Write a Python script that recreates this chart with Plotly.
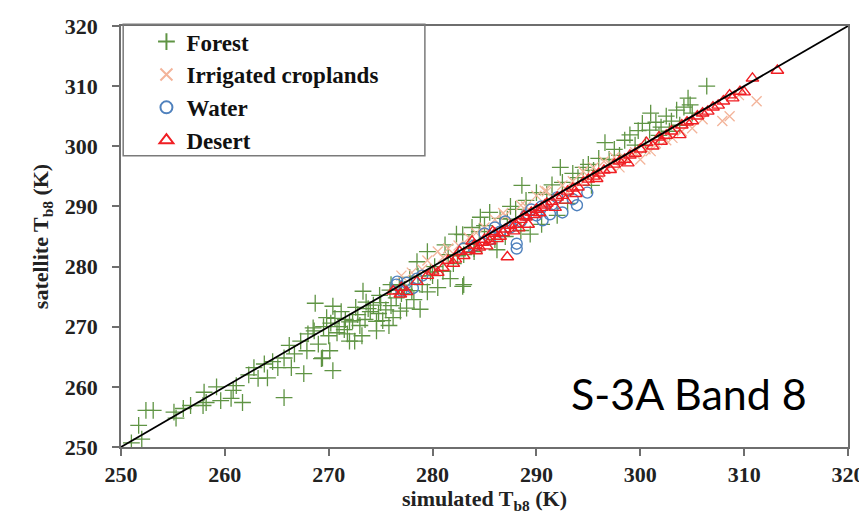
import plotly.graph_objects as go

# ---------------- data (simulated Tb8, satellite Tb8) ----------------
forest = [
    (251.0, 250.7), (251.7, 253.6), (252.4, 256.1), (253.1, 256.1), (252.0, 251.3),
    (255.1, 255.8), (255.3, 254.8), (256.7, 256.9), (257.9, 256.9), (258.2, 257.4),
    (258.0, 259.1), (259.6, 257.7), (260.6, 258.1), (260.8, 259.4), (261.1, 260.2),
    (261.7, 257.4), (262.8, 263.2), (263.2, 261.4), (264.1, 261.5), (263.8, 263.8),
    (265.1, 263.2), (265.7, 264.8), (266.4, 263.2), (266.7, 265.5), (265.7, 258.2),
    (267.6, 262.2), (267.3, 267.6), (268.0, 268.8), (268.6, 269.3), (269.0, 267.1),
    (268.7, 273.9), (270.4, 262.7), (269.3, 264.7), (267.9, 266.0), (268.5, 269.8),
    (270.1, 266.0), (269.4, 264.8), (270.4, 273.4), (270.6, 271.4), (271.0, 270.0),
    (271.5, 269.5), (272.0, 270.8), (272.0, 267.6), (272.5, 267.6), (272.8, 272.0),
    (273.3, 275.9), (273.5, 271.2), (274.0, 272.5), (274.6, 270.9), (274.6, 269.3),
    (275.0, 274.0), (275.5, 272.8), (276.0, 273.5), (276.2, 271.5), (276.9, 272.6),
    (277.5, 273.1), (277.0, 275.5), (278.0, 276.0), (278.8, 272.9), (278.5, 280.8),
    (279.5, 282.5), (279.0, 277.0), (280.0, 278.5), (281.0, 279.2), (281.7, 278.0),
    (282.9, 276.7), (282.0, 280.5), (280.5, 276.5), (271.2, 272.5), (272.3, 271.0),
    (273.0, 270.2), (273.8, 273.0), (274.3, 273.6), (275.2, 271.0), (276.5, 274.8),
    (277.3, 276.2), (269.5, 270.0), (270.0, 268.5), (270.8, 269.0), (271.8, 268.8),
    (273.2, 268.5), (274.8, 272.2), (275.8, 270.2), (278.2, 274.5), (279.5, 275.8),
    (280.2, 280.0), (281.5, 282.0), (282.4, 281.8), (283.0, 282.0), (283.5, 283.8),
    (284.0, 282.5), (284.5, 285.8), (276.0, 277.0), (277.8, 278.2), (271.6, 271.2),
    (272.6, 273.2), (273.6, 274.1), (274.9, 275.2), (275.9, 276.1), (276.8, 276.9),
    (278.6, 278.4), (279.8, 279.1), (270.2, 270.6), (269.8, 271.5), (266.2, 266.9),
    (264.6, 264.2), (262.3, 262.0), (259.2, 260.0), (256.0, 256.4),
    (282.3, 285.4), (282.9, 285.3), (284.6, 288.2), (285.5, 289.0), (286.2, 282.8),
    (287.2, 287.9), (288.6, 293.5), (289.4, 285.4), (292.3, 296.5), (283.0, 277.0),
    (285.0, 286.8), (286.5, 288.0), (287.5, 290.0), (288.0, 289.5), (289.0, 291.0),
    (290.0, 292.3), (291.0, 292.0), (291.5, 293.6), (292.5, 294.0), (293.5, 295.5),
    (294.0, 294.8), (294.5, 296.5), (295.0, 297.0), (295.5, 296.0), (296.0, 298.0),
    (290.5, 287.0), (292.0, 288.5), (288.5, 286.0), (286.0, 284.5), (284.0, 283.0),
    (293.0, 290.5), (295.3, 293.5), (283.8, 286.5), (287.0, 285.0), (281.2, 283.6),
    (296.6, 300.6), (299.0, 301.9), (300.9, 302.7), (301.5, 304.0), (302.0, 303.2),
    (302.5, 305.0), (303.0, 304.2), (303.5, 306.0), (303.8, 303.5), (304.6, 308.0),
    (304.8, 306.9), (304.2, 306.5), (306.4, 310.0), (301.0, 305.5), (300.2, 303.8),
    (299.5, 300.2), (298.5, 301.0), (297.5, 299.5), (298.0, 298.5), (302.8, 302.5),
    (305.0, 305.5), (301.8, 301.8), (300.5, 300.2), (297.0, 297.8), (299.8, 302.6),
]

croplands = [
    (277.0, 278.5), (278.0, 279.0), (279.5, 281.0), (280.5, 282.5), (281.5, 283.0),
    (282.5, 283.5), (283.5, 284.8), (281.0, 281.5), (279.0, 279.5), (285.0, 286.5),
    (286.0, 287.8), (287.0, 288.5), (288.5, 290.2), (290.0, 291.8), (291.0, 292.5),
    (292.5, 293.5), (293.5, 294.2), (294.5, 295.8), (295.5, 296.5), (296.5, 297.5),
    (297.5, 298.2), (289.0, 290.0), (293.0, 292.5), (296.0, 295.5), (298.5, 298.0),
    (299.5, 299.0), (300.5, 299.5), (301.5, 300.5), (302.5, 301.0), (303.1, 301.4),
    (304.0, 302.5), (305.0, 303.0), (306.0, 304.5), (307.9, 304.2), (308.6, 305.0),
    (311.2, 307.5), (309.5, 308.5), (300.0, 297.8), (298.0, 296.5), (284.2, 285.6),
    (286.8, 288.9), (290.8, 292.6), (294.8, 294.6), (297.2, 296.8), (301.0, 299.2),
]

water = [
    (276.5, 277.0), (277.0, 276.0), (277.5, 277.3), (278.1, 276.4), (276.6, 277.5),
    (278.5, 278.0), (279.0, 278.5), (283.0, 283.0), (284.0, 283.5), (285.5, 284.5),
    (286.5, 285.8), (287.5, 286.5), (288.1, 283.8), (288.1, 283.0), (288.5, 287.5),
    (289.0, 288.5), (290.0, 288.5), (290.6, 287.7), (291.3, 288.7), (292.5, 289.0),
    (293.9, 290.2), (294.9, 292.3), (293.5, 291.2), (289.5, 289.5), (290.5, 290.0),
    (291.5, 290.3), (292.0, 291.5), (286.0, 286.5), (287.0, 287.5), (285.0, 285.5),
]

desert = [
    (277.0, 276.5), (277.5, 275.8), (276.2, 275.9), (276.9, 275.4), (278.5, 277.5),
    (279.5, 278.5), (280.0, 279.2), (281.0, 279.8), (281.5, 281.0), (282.0, 280.5),
    (282.6, 282.5), (283.0, 281.8), (283.5, 282.8), (284.0, 283.5), (284.5, 283.2),
    (285.0, 284.5), (285.5, 284.2), (286.0, 285.5), (286.5, 285.0), (287.0, 286.2),
    (287.2, 281.6), (287.5, 286.8), (288.0, 287.0), (288.5, 287.8), (289.0, 288.2),
    (289.5, 289.0), (290.0, 289.5), (290.5, 289.8), (291.0, 290.5), (291.5, 290.8),
    (292.0, 291.5), (292.5, 291.8), (293.0, 292.5), (293.5, 293.0), (294.0, 293.2),
    (294.5, 294.0), (295.0, 294.5), (295.5, 295.0), (296.0, 295.5), (296.5, 296.0),
    (297.1, 296.1), (297.5, 297.0), (298.0, 297.5), (298.5, 297.8), (299.0, 298.5),
    (299.5, 298.8), (300.0, 299.5), (300.6, 300.6), (301.2, 300.0), (301.8, 301.5),
    (302.0, 300.8), (302.5, 301.8), (303.0, 302.5), (303.8, 301.9), (304.0, 303.5),
    (304.5, 304.0), (305.0, 304.2), (305.5, 305.0), (306.0, 305.5), (306.5, 305.8),
    (307.0, 306.5), (307.5, 306.8), (308.0, 307.5), (308.6, 308.5), (308.9, 308.0),
    (309.6, 309.1), (310.0, 309.0), (310.8, 311.3), (313.2, 312.6), (284.8, 284.0),
    (286.8, 285.6), (288.8, 288.4), (290.8, 290.2), (283.8, 284.2), (285.8, 285.8),
    (289.2, 287.0), (291.8, 289.8), (282.2, 281.2), (280.5, 279.0), (284.2, 282.6),
    (285.2, 283.4), (286.2, 284.6), (287.8, 285.9), (288.3, 286.4), (289.8, 288.6),
    (290.3, 288.9), (292.8, 291.0), (293.8, 292.1), (295.8, 294.6), (298.8, 297.2),
]

axis_range = [250, 320]
tick_vals = [250, 260, 270, 280, 290, 300, 310, 320]

series = [
    ("Forest", forest, "cross-thin-open", "#5f9444", 12, 1.3),
    ("Irrigated croplands", croplands, "x-thin-open", "#f3b49a", 10, 1.3),
    ("Water", water, "circle-open", "#4f81bd", 11, 1.4),
    ("Desert", desert, "triangle-up-open", "#f01e23", 11, 1.4),
]

fig = go.Figure()
for i, (name, pts, sym, col, size, lw) in enumerate(series):
    fig.add_trace(go.Scatter(
        x=[p[0] for p in pts], y=[p[1] for p in pts],
        mode="markers", name=name, legendgroup=name,
        marker=dict(symbol=sym, size=size, color=col, line=dict(color=col, width=lw)),
    ))

# 1:1 line
fig.add_trace(go.Scatter(x=axis_range, y=axis_range, mode="lines",
                         line=dict(color="black", width=1.8), showlegend=False,
                         hoverinfo="skip"))

serif = "Liberation Serif"
axis_common = dict(
    range=axis_range, tickvals=tick_vals, ticks="outside", ticklen=7, tickwidth=1.5,
    tickcolor="#6e6e6e", showline=True, linecolor="#6e6e6e", linewidth=1.5,
    mirror=True, showgrid=False, zeroline=False, automargin=False,
    tickfont=dict(family=serif, size=22, color="#222222", weight="bold"),
)

# the page body adds an 8 px offset, so the figure is 8 px smaller than the window
fig.update_layout(
    width=859, height=506,
    margin=dict(l=113, r=19, t=14, b=67),
    paper_bgcolor="white", plot_bgcolor="white",
    xaxis=dict(**axis_common,
               title=dict(text="simulated T<sub>b8</sub> (K)", standoff=4,
                          font=dict(family=serif, size=22, color="#222222", weight="bold"))),
    yaxis=dict(**axis_common, ticklabelstandoff=10,
               title=dict(text="satellite T<sub>b8</sub> (K)", standoff=10,
                          font=dict(family=serif, size=22, color="#222222", weight="bold"))),
    legend=dict(x=0.035, y=1.014, xanchor="left", yanchor="top",
                bgcolor="rgba(0,0,0,0)", borderwidth=0, tracegroupgap=0,
                font=dict(family=serif, size=23, color="#111111", weight="bold"),
                itemsizing="constant"),
    shapes=[dict(type="rect", xref="paper", yref="paper",
                 x0=0.003, x1=0.418, y0=0.692, y1=1.004,
                 line=dict(color="#7a7a7a", width=1.5), fillcolor="rgba(0,0,0,0)")],
    annotations=[dict(text="S-3A Band 8", xref="paper", yref="paper",
                      x=0.781, y=0.127, xanchor="center", yanchor="middle",
                      showarrow=False, font=dict(family="Lato", size=43, color="black"))],
)

fig.write_html("out.html")
